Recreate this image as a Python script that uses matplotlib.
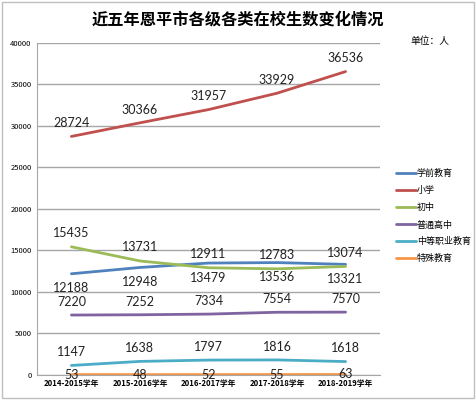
import matplotlib
matplotlib.use("Agg")
import matplotlib.pyplot as plt
from matplotlib.patches import Rectangle

plt.rcParams['font.family'] = ['Noto Sans CJK SC', 'DejaVu Sans']

years = ["2014-2015学年", "2015-2016学年", "2016-2017学年", "2017-2018学年", "2018-2019学年"]
series_names = ["学前教育", "小学", "初中", "普通高中", "中等职业教育", "特殊教育"]
preschool = [12188, 12948, 13479, 13536, 13321]
primary = [28724, 30366, 31957, 33929, 36536]
junior = [15435, 13731, 12911, 12783, 13074]
senior = [7220, 7252, 7334, 7554, 7570]
vocational = [1147, 1638, 1797, 1816, 1618]
special = [53, 48, 52, 55, 63]

colors = ["#4F81BD", "#C0504D", "#9BBB59", "#8064A2", "#4BACC6", "#F79646"]
all_values = [preschool, primary, junior, senior, vocational, special]
# label placement: offset in points (above / below / centred)
offsets = [-10.5, 9.5, 10, 9.5, 9.5, 0]

fig = plt.figure(figsize=(4.76, 4.0), dpi=100)
ax = fig.add_axes([0.078, 0.0625, 0.72, 0.8305])

x = list(range(len(years)))
for name, vals, c, off in zip(series_names, all_values, colors, offsets):
    ax.plot(x, vals, color=c, linewidth=2, label=name, solid_capstyle="round")
    for xi, v in zip(x, vals):
        ax.annotate(str(v), (xi, v), xytext=(0, off), textcoords="offset points",
                    ha="center", va="center", fontsize=9, color="#222222",
                    family=["Lato", "DejaVu Sans"])

ax.set_xlim(-0.5, 4.5)
ax.set_ylim(0, 40000)
ax.set_yticks(range(0, 40001, 5000))
ax.tick_params(axis="y", labelsize=5.5, length=0, pad=4)
ax.set_xticks(x)
ax.set_xticklabels(years, fontsize=5.6, fontweight="bold")
ax.tick_params(axis="x", length=0, pad=3)
ax.grid(axis="y", color="#A6A6A6", linewidth=1)
ax.set_axisbelow(True)
for side in ["top", "right"]:
    ax.spines[side].set_visible(False)
for side in ["left", "bottom"]:
    ax.spines[side].set_color("#A6A6A6")

fig.text(0.5, 0.952, "近五年恩平市各级各类在校生数变化情况", ha="center", va="center",
         fontsize=11.7, fontweight="bold")
fig.text(0.862, 0.898, "单位：人", ha="left", va="center", fontsize=7)

fig.legend(loc="upper left", bbox_to_anchor=(0.815, 0.597), frameon=False,
           fontsize=6.5, handlelength=2.2, handletextpad=0.1, labelspacing=0.88)

fig.patches.append(Rectangle((0.004, 0.004), 0.992, 0.992, transform=fig.transFigure,
                             fill=False, edgecolor="#BFBFBF", linewidth=1))

fig.savefig("out.png", dpi=100)
